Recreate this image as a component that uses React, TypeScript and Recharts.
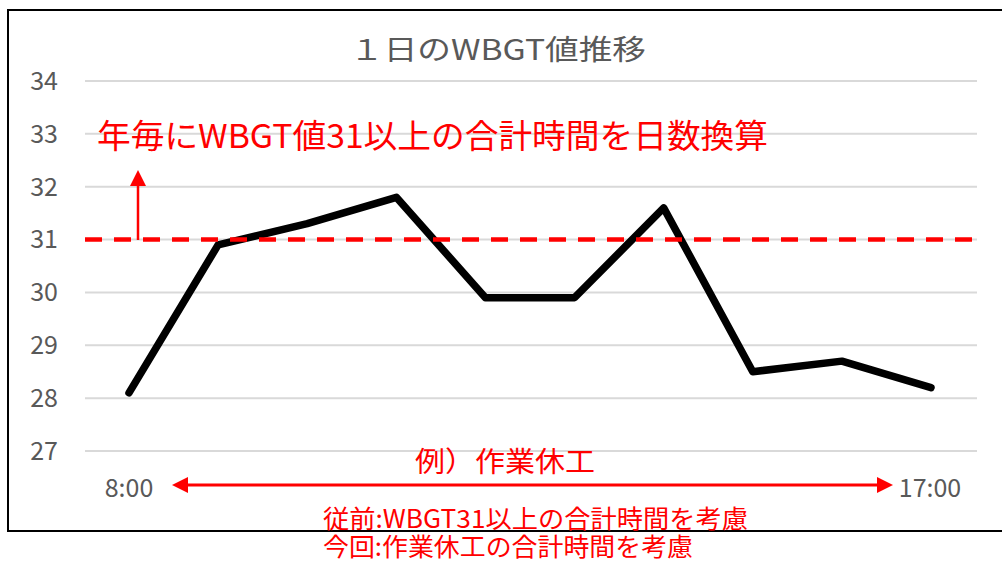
import { LineChart, Line, XAxis, YAxis, CartesianGrid, ReferenceLine } from 'recharts';

const TIMES = ['8:00', '9:00', '10:00', '11:00', '12:00', '13:00', '14:00', '15:00', '16:00', '17:00'];
const WBGT = [28.1, 30.9, 31.3, 31.8, 29.9, 29.9, 31.6, 28.5, 28.7, 28.2];
const Y_TICKS = [27, 28, 29, 30, 31, 32, 33, 34];
const THRESHOLD = 31;

const data = TIMES.map((t, i) => ({ time: t, wbgt: WBGT[i] }));

const JP = '"Noto Sans CJK JP", "Noto Sans", sans-serif';
const RED = '#FF0000';
const GRAY = '#595959';

export default function App() {
  return (
    <div style={{ position: 'absolute', left: 0, top: 0, width: 1002, height: 561, background: '#fff' }}>
      <LineChart
        width={1002}
        height={561}
        data={data}
        margin={{ top: 81, right: 25, bottom: 110, left: 0 }}
      >
        <CartesianGrid vertical={false} stroke="#d9d9d9" strokeWidth={2} />
        <XAxis dataKey="time" hide padding={{ left: 44, right: 46 }} />
        <YAxis
          width={85}
          domain={[27, 34]}
          ticks={Y_TICKS}
          axisLine={false}
          tickLine={false}
          tickMargin={21}
          tick={{ fill: GRAY, fontSize: 25, fontFamily: JP }}
        />
        <Line
          dataKey="wbgt"
          stroke="#000"
          strokeWidth={7.5}
          strokeLinecap="round"
          strokeLinejoin="round"
          dot={false}
          isAnimationActive={false}
        />
        <ReferenceLine y={THRESHOLD} stroke={RED} strokeWidth={4.5} strokeDasharray="17 12" />
      </LineChart>

      <svg
        width={1002}
        height={561}
        style={{ position: 'absolute', left: 0, top: 0, pointerEvents: 'none' }}
      >
        {/* frame */}
        <rect x={8} y={10} width={1010} height={521} fill="none" stroke="#000" strokeWidth={2} />

        <text x={498} y={60} textAnchor="middle" fill={GRAY} fontSize={28} fontFamily={JP}
          textLength={296} lengthAdjust="spacingAndGlyphs">１日のWBGT値推移</text>

        <text x={97} y={148} fill={RED} fontSize={33} fontFamily={JP}
          textLength={671} lengthAdjust="spacingAndGlyphs">年毎にWBGT値31以上の合計時間を日数換算</text>

        {/* up arrow */}
        <line x1={138} y1={240} x2={138} y2={184} stroke={RED} strokeWidth={2.5} />
        <polygon points="130,186 146,186 138,170" fill={RED} />

        <text x={505} y={472} textAnchor="middle" fill={RED} fontSize={28} fontFamily={JP}
          textLength={180} lengthAdjust="spacingAndGlyphs">例）作業休工</text>

        <text x={129} y={497} textAnchor="middle" fill={GRAY} fontSize={25} fontFamily={JP}>8:00</text>
        <text x={930} y={497} textAnchor="middle" fill={GRAY} fontSize={25} fontFamily={JP}>17:00</text>

        {/* double arrow */}
        <line x1={186} y1={485} x2={879} y2={485} stroke={RED} strokeWidth={3} />
        <polygon points="172,485 188,477 188,493" fill={RED} />
        <polygon points="893,485 877,477 877,493" fill={RED} />

        <text x={323} y={528} fill={RED} fontSize={25} fontFamily={JP}
          textLength={425} lengthAdjust="spacingAndGlyphs">従前:WBGT31以上の合計時間を考慮</text>
        <text x={323} y={556} fill={RED} fontSize={25} fontFamily={JP}
          textLength={370} lengthAdjust="spacingAndGlyphs">今回:作業休工の合計時間を考慮</text>
      </svg>
    </div>
  );
}
